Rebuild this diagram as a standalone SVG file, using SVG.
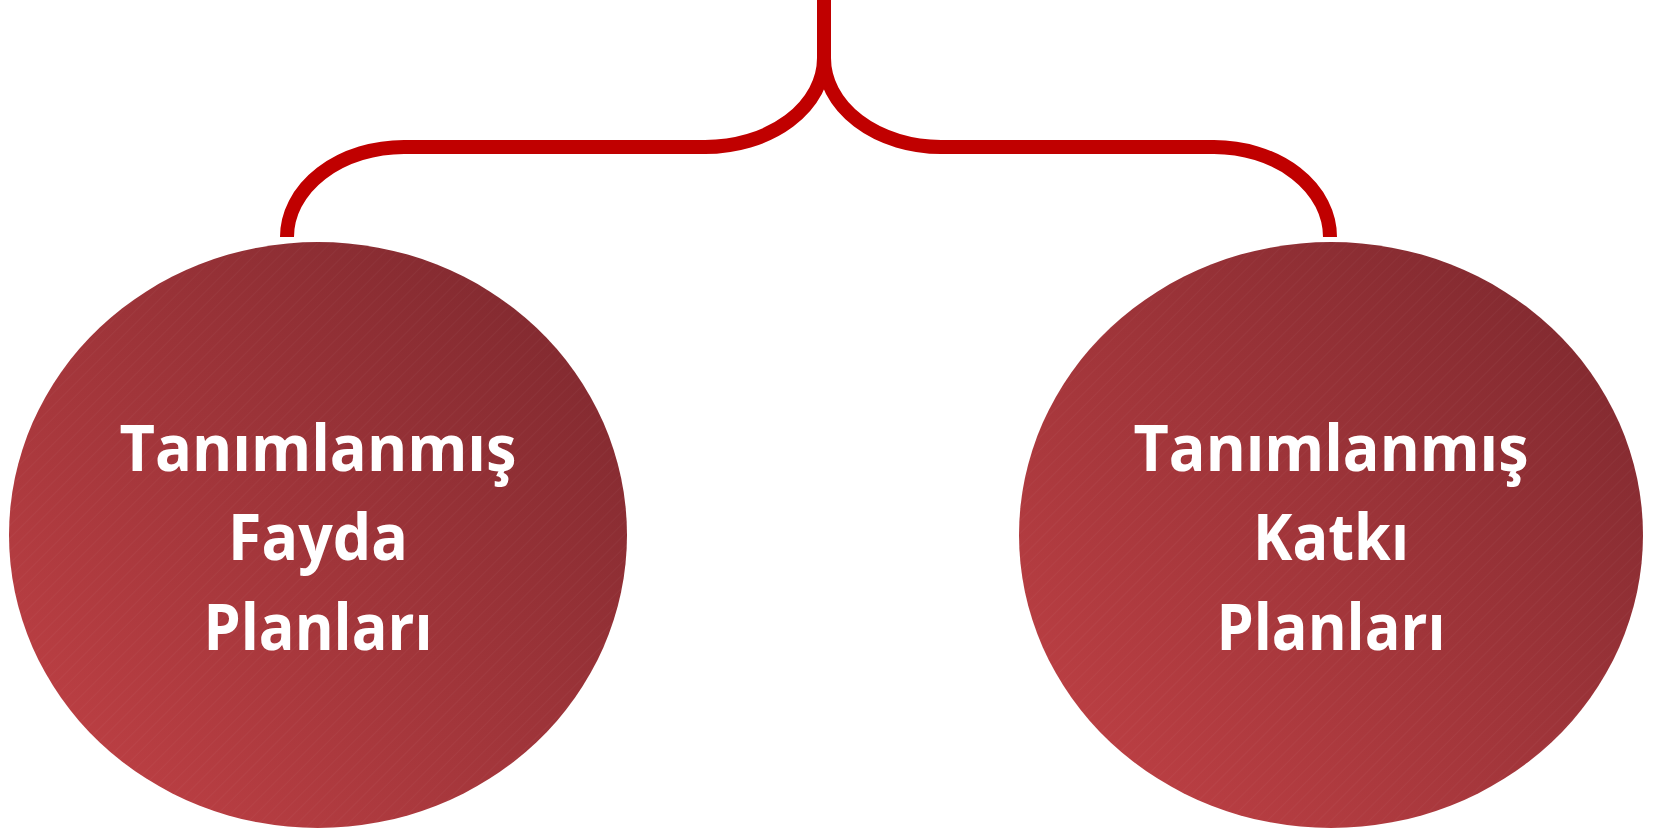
<svg xmlns="http://www.w3.org/2000/svg" width="1655" height="832" viewBox="0 0 1655 832">
<defs>
<linearGradient id="g" x1="0" y1="1" x2="1" y2="0">
<stop offset="0" stop-color="#C44246"/>
<stop offset="1" stop-color="#7A272D"/>
</linearGradient>
<pattern id="stripes" width="9" height="9" patternUnits="userSpaceOnUse" patternTransform="rotate(45)">
<line x1="0" y1="0" x2="0" y2="9" stroke="#ffffff" stroke-opacity="0.06" stroke-width="1"/>
</pattern>
<style>
.conn{fill:none;stroke:#C00000;stroke-width:14}
.bub{fill:url(#g)}
.tex{fill:url(#stripes)}
.lbl{font-family:"Open Sans","Liberation Sans",sans-serif;font-weight:700;font-size:64px;fill:#ffffff;text-anchor:middle}
</style>
</defs>
<g id="connectors">
<path class="conn" d="M824,0 V58 A119,89 0 0 1 705,147 H404 A117,90 0 0 0 287,237"/>
<path class="conn" d="M824,58 A117,89 0 0 0 941,147 H1214 A116,90 0 0 1 1330,237"/>
</g>
<g id="node-left">
<ellipse class="bub" cx="318" cy="535" rx="309" ry="293"/>
<ellipse class="tex" cx="318" cy="535" rx="309" ry="293"/>
<text class="lbl" x="318" y="471" textLength="397" lengthAdjust="spacingAndGlyphs">Tanımlanmış</text>
<text class="lbl" x="318" y="560" textLength="180" lengthAdjust="spacingAndGlyphs">Fayda</text>
<text class="lbl" x="318" y="650" textLength="229" lengthAdjust="spacingAndGlyphs">Planları</text>
</g>
<g id="node-right">
<ellipse class="bub" cx="1331" cy="535" rx="312" ry="293"/>
<ellipse class="tex" cx="1331" cy="535" rx="312" ry="293"/>
<text class="lbl" x="1331" y="471" textLength="395" lengthAdjust="spacingAndGlyphs">Tanımlanmış</text>
<text class="lbl" x="1331" y="560" textLength="156" lengthAdjust="spacingAndGlyphs">Katkı</text>
<text class="lbl" x="1331" y="650" textLength="229" lengthAdjust="spacingAndGlyphs">Planları</text>
</g>
</svg>
